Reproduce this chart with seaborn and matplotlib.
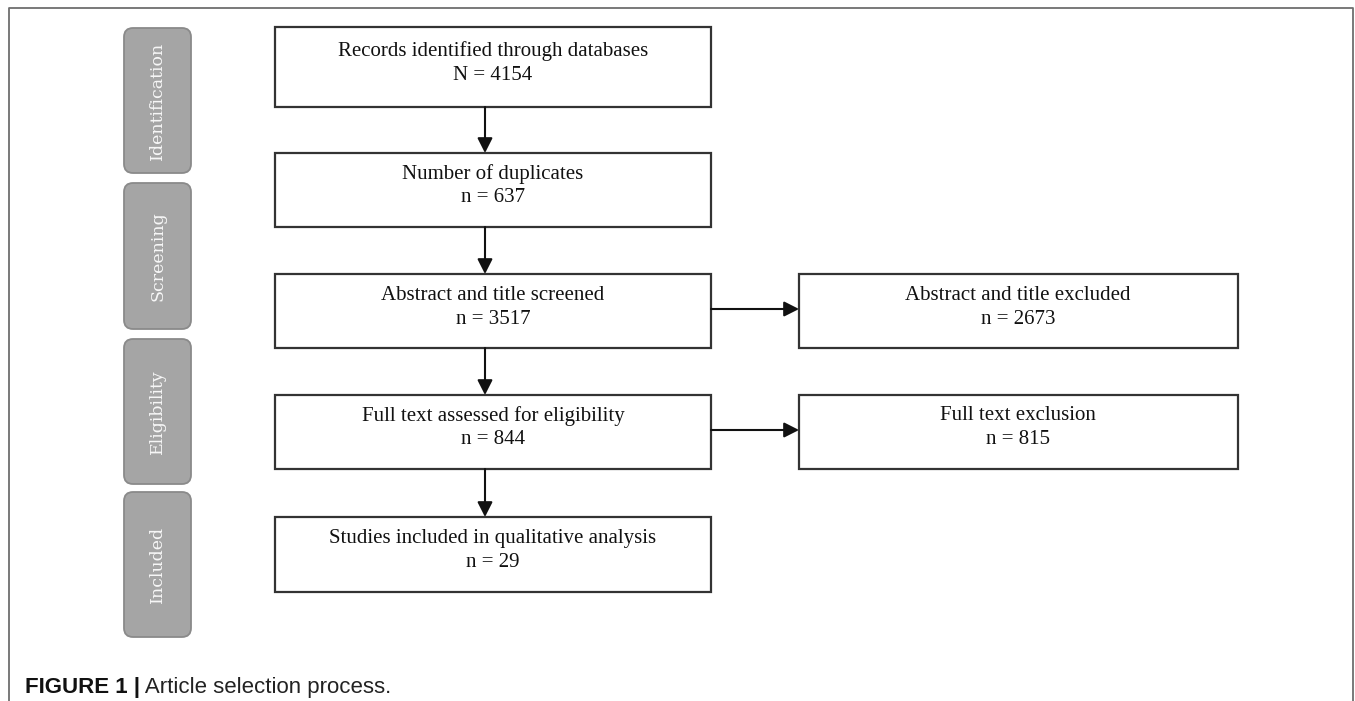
import matplotlib
matplotlib.use("Agg")
import matplotlib.pyplot as plt
from matplotlib.patches import FancyBboxPatch, Rectangle
import seaborn as sns

# PRISMA stages and flow counts
stages = ["Identification", "Screening", "Eligibility", "Included"]
main_labels = ["Records identified through databases",
               "Number of duplicates",
               "Abstract and title screened",
               "Full text assessed for eligibility",
               "Studies included in qualitative analysis"]
main_counts = ["N = 4154", "n = 637", "n = 3517", "n = 844", "n = 29"]
side_labels = ["Abstract and title excluded", "Full text exclusion"]
side_counts = ["n = 2673", "n = 815"]
caption_bold = "FIGURE 1 |"
caption_text = " Article selection process."

sns.set_theme(style="white")
plt.rcParams["font.family"] = ["Liberation Serif", "DejaVu Serif"]

W, H = 1355, 701
fig = plt.figure(figsize=(W / 100, H / 100), dpi=100)
ax = fig.add_axes([0, 0, 1, 1])
ax.set_xlim(0, W)
ax.set_ylim(H, 0)
ax.axis("off")

# outer frame (open at the bottom)
frame_col = "#6e6e6e"
ax.plot([9, 9, 1353, 1353], [H, 8, 8, H], color=frame_col, lw=1.3)

# stage pills
pill_y = [(28, 173), (183, 329), (339, 484), (492, 637)]
for name, (y0, y1) in zip(stages, pill_y):
    p = FancyBboxPatch((124 + 9, y0 + 9), 67 - 18, (y1 - y0) - 18,
                       boxstyle="round,pad=9", fc="#a5a5a5", ec="#8a8a8a", lw=1.3)
    ax.add_patch(p)
    ax.text(157.5, (y0 + y1) / 2, name, rotation=90, ha="center", va="center",
            color="#f7f7f7", fontsize=12.5, family=["DejaVu Serif"])

# main column boxes
box_col = "#333333"
txt_col = "#111111"
fs = 15
main_x = (275, 711)
main_y = [(27, 107), (153, 227), (274, 348), (395, 469), (517, 592)]
for lab, cnt, (y0, y1) in zip(main_labels, main_counts, main_y):
    ax.add_patch(Rectangle((main_x[0], y0), main_x[1] - main_x[0], y1 - y0,
                           fill=False, ec=box_col, lw=1.6))
    cy = (y0 + y1) / 2
    ax.text(493, cy - 16, lab, ha="center", va="center", fontsize=fs, color=txt_col)
    ax.text(493, cy + 8, cnt, ha="center", va="center", fontsize=fs, color=txt_col)

# side boxes
side_x = (799, 1238)
side_y = [main_y[2], main_y[3]]
for lab, cnt, (y0, y1) in zip(side_labels, side_counts, side_y):
    ax.add_patch(Rectangle((side_x[0], y0), side_x[1] - side_x[0], y1 - y0,
                           fill=False, ec=box_col, lw=1.6))
    cy = (y0 + y1) / 2
    ax.text(1018, cy - 16, lab, ha="center", va="center", fontsize=fs, color=txt_col)
    ax.text(1018, cy + 8, cnt, ha="center", va="center", fontsize=fs, color=txt_col)

# vertical arrows
arrow_kw = dict(arrowstyle="-|>,head_length=0.75,head_width=0.38", color="#111111",
                lw=1.5, shrinkA=0, shrinkB=0)
for (a0, a1), (b0, b1) in zip(main_y[:-1], main_y[1:]):
    ax.annotate("", xy=(485, b0), xytext=(485, a1), arrowprops=arrow_kw)

# horizontal arrows
for y0, y1 in side_y:
    cy = (y0 + y1) / 2 - 2
    ax.annotate("", xy=(side_x[0], cy), xytext=(main_x[1], cy), arrowprops=arrow_kw)

# caption
sans = ["Liberation Sans", "DejaVu Sans"]
t = ax.text(25, 687, caption_bold, ha="left", va="center", fontsize=16,
            fontweight="bold", family=sans, color="#111111")
fig.canvas.draw()
bb = t.get_window_extent()
x_end = ax.transData.inverted().transform((bb.x1, bb.y0))[0]
ax.text(x_end, 687, caption_text, ha="left", va="center", fontsize=16,
        family=sans, color="#222222")

fig.savefig("out.png", dpi=100)
